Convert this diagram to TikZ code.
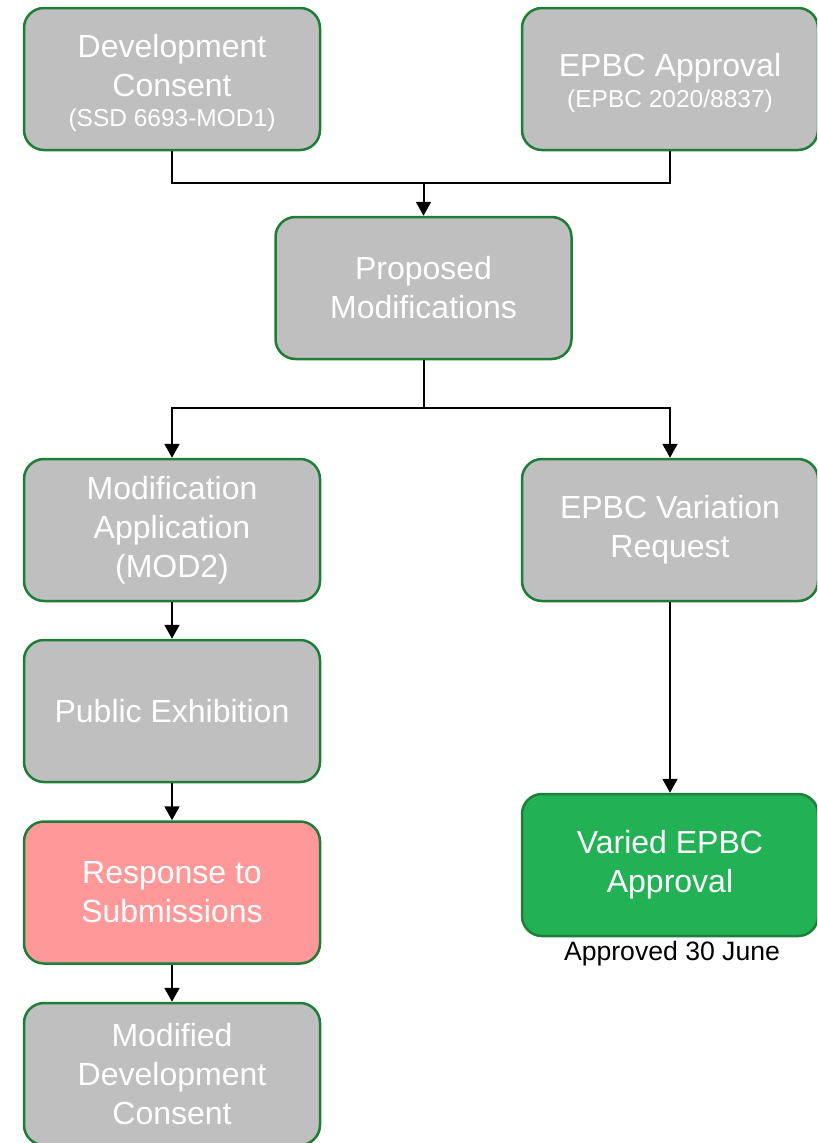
\documentclass[tikz,border=0pt]{standalone}
\usepackage{fontspec}
\setmainfont{Liberation Sans}
\usetikzlibrary{arrows.meta}
\definecolor{boxgray}{RGB}{191,191,191}
\definecolor{boxedge}{RGB}{30,125,55}
\definecolor{boxred}{RGB}{255,153,153}
\definecolor{boxgreen}{RGB}{34,177,84}
\definecolor{greenedge}{RGB}{28,128,58}
\begin{document}
\begin{tikzpicture}[x=1pt,y=-1pt,
  card/.style={draw=boxedge, line width=2.5pt, fill=boxgray, rounded corners=20pt,
    minimum width=296pt, minimum height=142pt, inner sep=0pt, align=center,
    text=white, font=\fontsize{32}{39}\selectfont},
  link/.style={draw=black, line width=2pt},
  arr/.style={link, -{Triangle[length=14pt,width=15pt]}}]
\useasboundingbox (0,0) rectangle (817,1143);
\clip (0,0) rectangle (817,1143);
\node[card] (dc) at (172,79) {\rule{0pt}{31.5pt}Development\\Consent\\[-9pt]{\fontsize{24.5}{27}\selectfont (SSD 6693-MOD1)}};
\node[card] (ea) at (670,79) {\rule{0pt}{30.5pt}EPBC Approval\\[-8pt]{\fontsize{24.5}{27}\selectfont (EPBC 2020/8837)}};
\node[card] (pm) at (423.5,288) {Proposed\\Modifications};
\node[card] (ma) at (172,530) {Modification\\Application\\(MOD2)};
\node[card] (ev) at (670,530) {EPBC Variation\\Request};
\node[card] (pe) at (172,711) {Public Exhibition};
\node[card, fill=boxred] (rs) at (172,892.5) {Response to\\Submissions};
\node[card] (md) at (172,1074) {Modified\\Development\\Consent};
\node[card, fill=boxgreen, draw=greenedge] (va) at (670,865) {Varied EPBC\\Approval};
\node[font=\fontsize{26.6}{32}\selectfont, inner sep=0pt] (ap) at (672,954) {Approved 30 June};
\coordinate (j1) at (423.5,183);
\coordinate (j2) at (423.5,408);
\draw[link] (dc.south) |- (j1);
\draw[link] (ea.south) |- (j1);
\draw[arr] (j1) -- (pm.north);
\draw[link] (pm.south) -- (j2);
\draw[arr] (j2) -| (ma.north);
\draw[arr] (j2) -| (ev.north);
\draw[arr] (ma) -- (pe);
\draw[arr] (pe) -- (rs);
\draw[arr] (rs) -- (md);
\draw[arr] (ev) -- (va);
\end{tikzpicture}
\end{document}
